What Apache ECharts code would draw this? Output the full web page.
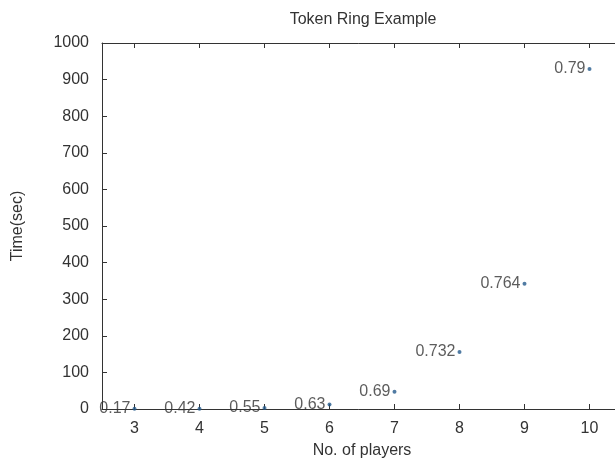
<!DOCTYPE html>
<html>
<head>
<meta charset="utf-8">
<script src="https://cdn.jsdelivr.net/npm/echarts@6/dist/echarts.min.js"></script>
<style>html,body{margin:0;padding:0;background:#fff;}#c{width:615px;height:468px;}</style>
</head>
<body>
<div id="c"></div>
<script>
var players = [3, 4, 5, 6, 7, 8, 9, 10];
var times = [0.5, 0.8, 2.5, 12, 47, 156, 342, 929];
var pointLabels = ['0.17', '0.42', '0.55', '0.63', '0.69', '0.732', '0.764', '0.79'];
var xTicks = [3, 4, 5, 6, 7, 8, 9, 10];

var FONT = '"Liberation Sans", Arial, sans-serif';
var TXT = '#333';
var FS = 16;
var chart = echarts.init(document.getElementById('c'), null, {renderer: 'canvas'});
var data = players.map(function (p, i) { return [p, times[i], pointLabels[i]]; });
var lineStyle = {color: '#333', width: 1};
chart.setOption({
  animation: false,
  backgroundColor: '#fff',
  title: {
    text: 'Token Ring Example', left: 358, top: 7, textAlign: 'center',
    textStyle: {fontFamily: FONT, fontSize: FS, fontWeight: 'normal', color: TXT}
  },
  grid: {left: 102, top: 43, width: 520, bottom: 59, containLabel: false, outerBoundsMode: 'none'},
  xAxis: [{
    type: 'value', min: 2.5, max: 10.5, position: 'bottom',
    name: 'No. of players', nameLocation: 'middle', nameGap: 34,
    nameTextStyle: {fontFamily: FONT, fontSize: FS, color: TXT},
    axisLine: {show: true, onZero: false, lineStyle: lineStyle},
    axisTick: {show: true, inside: true, length: 5, customValues: xTicks, lineStyle: lineStyle},
    axisLabel: {fontFamily: FONT, fontSize: FS, color: TXT, margin: 12, customValues: xTicks},
    splitLine: {show: false}
  }, {
    type: 'value', min: 2.5, max: 10.5, position: 'top',
    axisLine: {show: true, onZero: false, lineStyle: lineStyle},
    axisTick: {show: true, inside: true, length: 5, customValues: xTicks, lineStyle: lineStyle},
    axisLabel: {show: false},
    splitLine: {show: false}
  }],
  yAxis: [{
    type: 'value', min: 0, max: 1000, interval: 100,
    name: 'Time(sec)', nameLocation: 'middle', nameGap: 76, nameRotate: 90,
    nameTextStyle: {fontFamily: FONT, fontSize: FS, color: TXT},
    axisLine: {show: true, onZero: false, lineStyle: lineStyle},
    axisTick: {show: true, inside: true, length: 5, lineStyle: lineStyle},
    axisLabel: {fontFamily: FONT, fontSize: FS, color: TXT, margin: 13,
      formatter: function (v) { return String(v); }},
    splitLine: {show: false}
  }],
  series: [{
    type: 'scatter',
    data: data,
    symbol: 'circle',
    symbolSize: 4,
    itemStyle: {color: '#245a8c'},
    label: {
      show: true, position: 'left', distance: 2,
      fontFamily: FONT, fontSize: FS, color: TXT,
      formatter: function (p) { return p.data[2]; }
    }
  }]
});
</script>
</body>
</html>
